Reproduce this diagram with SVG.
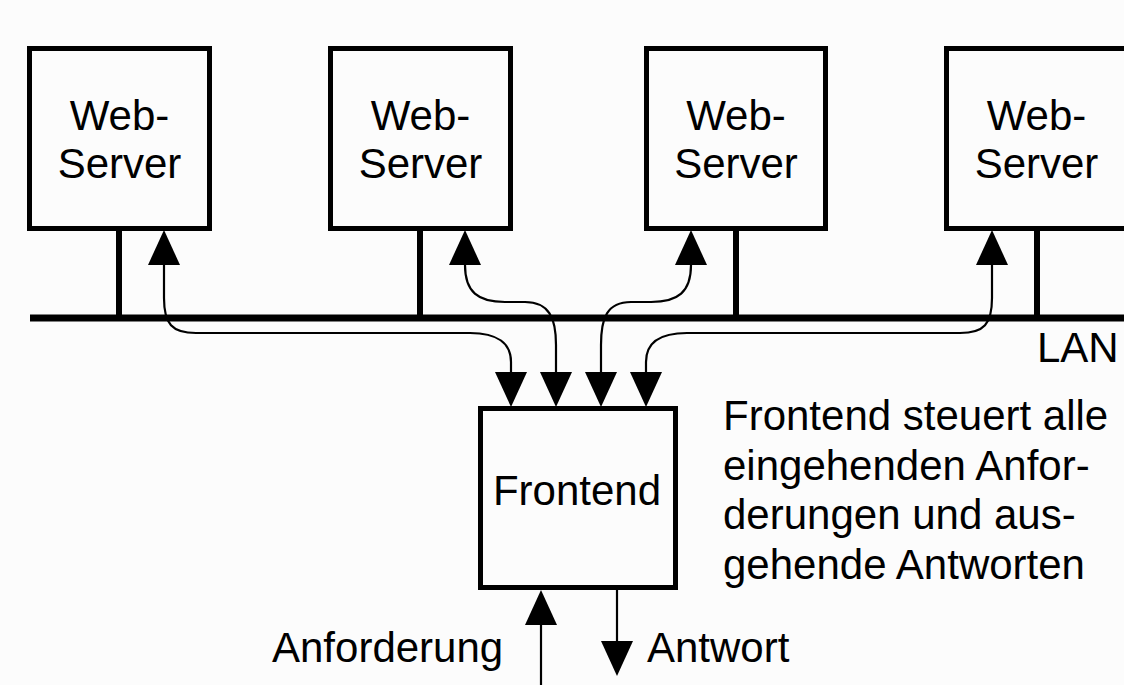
<svg xmlns="http://www.w3.org/2000/svg" width="1124" height="685" viewBox="0 0 1124 685">
<style>
.box{fill:none;stroke:#000;stroke-width:5}
.bus{stroke:#000;fill:none}
.con{fill:none;stroke:#000;stroke-width:2.2}
text{font-family:"Liberation Sans",Arial,sans-serif;font-size:42px;fill:#000}
.c{text-anchor:middle}
</style>
<defs>
<marker id="ah" viewBox="0 0 35 32" refX="0" refY="16" markerWidth="35" markerHeight="32" markerUnits="userSpaceOnUse" orient="auto-start-reverse">
<path d="M0,0 L35,16 L0,32 z" fill="#000"/>
</marker>
</defs>
<rect width="1124" height="685" fill="#fcfcfc"/>
<g id="lan">
<line class="bus" x1="30" y1="318" x2="1124" y2="318" stroke-width="7"/>
<line class="bus" x1="119" y1="231" x2="119" y2="318" stroke-width="6"/>
<line class="bus" x1="420" y1="231" x2="420" y2="318" stroke-width="6"/>
<line class="bus" x1="736" y1="231" x2="736" y2="318" stroke-width="6"/>
<line class="bus" x1="1037" y1="231" x2="1037" y2="318" stroke-width="6"/>
<text x="1037" y="362">LAN</text>
</g>
<g id="server1">
<rect class="box" x="29.5" y="48.5" width="180" height="180"/>
<text class="c" x="119.5" y="130">Web-</text>
<text class="c" x="119.5" y="178">Server</text>
</g>
<g id="server2">
<rect class="box" x="330.5" y="48.5" width="180" height="180"/>
<text class="c" x="420.5" y="130">Web-</text>
<text class="c" x="420.5" y="178">Server</text>
</g>
<g id="server3">
<rect class="box" x="646.5" y="48.5" width="179" height="180"/>
<text class="c" x="736" y="130">Web-</text>
<text class="c" x="736" y="178">Server</text>
</g>
<g id="server4">
<rect class="box" x="946.5" y="48.5" width="180" height="180"/>
<text class="c" x="1036.5" y="130">Web-</text>
<text class="c" x="1036.5" y="178">Server</text>
</g>
<g id="frontend">
<rect class="box" x="480.5" y="408.5" width="195" height="179"/>
<text class="c" x="577" y="505">Frontend</text>
</g>
<g id="note">
<text x="723" y="430">Frontend steuert alle</text>
<text x="723" y="480">eingehenden Anfor-</text>
<text x="723" y="529">derungen und aus-</text>
<text x="723" y="579">gehende Antworten</text>
</g>
<g id="labels">
<text x="272" y="662">Anforderung</text>
<text x="647" y="662">Antwort</text>
</g>
<g id="connectors">
<path class="con" d="M164,265 L164,298 C164,324 172,333 196,333 L470,333 C498,333 511,344 511,362 L511,372" marker-start="url(#ah)" marker-end="url(#ah)"/>
<path class="con" d="M465,265 C465,292 478,302 505,302 L525,302 C549,302 556,318 556,345 L556,372" marker-start="url(#ah)" marker-end="url(#ah)"/>
<path class="con" d="M691,265 C691,292 678,302 651,302 L631,302 C607,302 601,318 601,345 L601,372" marker-start="url(#ah)" marker-end="url(#ah)"/>
<path class="con" d="M992,265 L992,298 C992,324 984,333 960,333 L687,333 C658,333 646,344 646,362 L646,372" marker-start="url(#ah)" marker-end="url(#ah)"/>
<path class="con" d="M541,685 L541,625" marker-end="url(#ah)"/>
<path class="con" d="M617,590 L617,641" marker-end="url(#ah)"/>
</g>
</svg>
